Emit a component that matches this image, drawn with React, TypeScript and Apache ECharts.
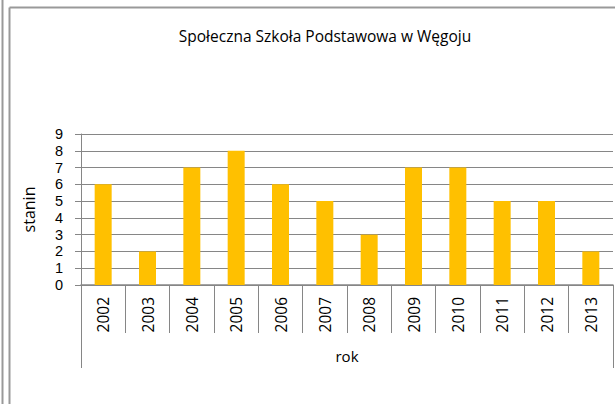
import React, { useEffect, useRef } from "react";
import * as echarts from "echarts";

const titleText = "Społeczna Szkoła Podstawowa w Węgoju";
const years = ["2002", "2003", "2004", "2005", "2006", "2007", "2008", "2009", "2010", "2011", "2012", "2013"];
const stanin = [6, 2, 7, 8, 6, 5, 3, 7, 7, 5, 5, 2];
const outerCategory = [""];
const yAxisName = "stanin";
const xAxisName = "rok";

const FONT = "'Open Sans', 'Noto Sans', sans-serif";
const GRAY = "#868686";

export default function App() {
  const ref = useRef<HTMLDivElement>(null);
  useEffect(() => {
    if (!ref.current) return;
    const chart = echarts.init(ref.current, null, { renderer: "svg" });
    chart.setOption({
      animation: false,
      backgroundColor: "#fff",
      textStyle: { fontFamily: FONT },
      title: {
        text: titleText,
        left: 320,
        textAlign: "center",
        top: 22,
        textStyle: { fontSize: 15.5, fontWeight: "normal", color: "#000", fontFamily: FONT, lineHeight: 18 },
      },
      graphic: [
        { type: "line", shape: { x1: 2.5, y1: 0, x2: 2.5, y2: 404 }, style: { stroke: "#999", lineWidth: 2 } },
        { type: "line", shape: { x1: 9.5, y1: 7.5, x2: 9.5, y2: 404 }, style: { stroke: "#999", lineWidth: 2 } },
        { type: "line", shape: { x1: 9.5, y1: 7.5, x2: 615, y2: 7.5 }, style: { stroke: "#999", lineWidth: 2 } },
      ],
      grid: { left: 81, top: 134, right: 2, bottom: 119, containLabel: false },
      xAxis: [
        {
          type: "category",
          data: years,
          name: xAxisName,
          nameLocation: "middle",
          nameGap: 63,
          nameTextStyle: { fontSize: 15, color: "#000", fontFamily: FONT },
          axisLine: { show: true, lineStyle: { color: GRAY, width: 1.5 } },
          axisTick: { show: true, length: 48, interval: 0, lineStyle: { color: GRAY } },
          axisLabel: { rotate: 90, interval: 0, margin: 12, fontSize: 15.5, color: "#000", fontFamily: FONT },
        },
        {
          type: "category",
          data: outerCategory,
          position: "bottom",
          axisLine: { show: false },
          axisTick: { show: true, length: 83, lineStyle: { color: GRAY } },
          axisLabel: { show: false },
        },
      ],
      yAxis: {
        type: "value",
        min: 0,
        max: 9,
        interval: 1,
        name: yAxisName,
        nameLocation: "middle",
        nameRotate: 90,
        nameGap: 44,
        nameTextStyle: { fontSize: 16, color: "#000", fontFamily: FONT },
        axisLine: { show: true, lineStyle: { color: GRAY } },
        axisTick: { show: true, length: 6, lineStyle: { color: GRAY } },
        axisLabel: { margin: 18, fontSize: 14.5, lineHeight: 14, color: "#000", fontFamily: "'Liberation Sans', Arial, sans-serif" },
        splitLine: { show: true, lineStyle: { color: GRAY } },
      },
      series: [
        {
          type: "bar",
          data: stanin,
          barWidth: 17,
          itemStyle: { color: "#FFC000" },
        },
      ],
    });
    return () => chart.dispose();
  }, []);
  return <div ref={ref} style={{ position: "fixed", left: 0, top: 0, width: 615, height: 404 }} />;
}
